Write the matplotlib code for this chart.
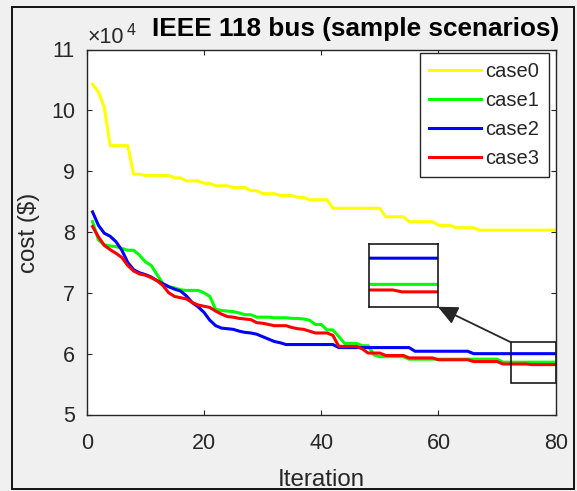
import matplotlib
matplotlib.use("Agg")
import matplotlib.pyplot as plt
from matplotlib.patches import Rectangle
from matplotlib.ticker import FuncFormatter
import numpy as np

plt.rcParams['font.family'] = ['Liberation Sans', 'DejaVu Sans']

# ---------------- data (cost in units of 1e4 $) ----------------
iterations = list(range(1, 81))
case0 = [10.43, 10.30, 10.05, 9.42, 9.42, 9.42, 9.42, 8.95, 8.95, 8.93,
         8.93, 8.93, 8.93, 8.93, 8.89, 8.89, 8.84, 8.84, 8.84, 8.80,
         8.80, 8.76, 8.76, 8.76, 8.73, 8.73, 8.73, 8.68, 8.68, 8.63,
         8.63, 8.63, 8.60, 8.60, 8.60, 8.57, 8.57, 8.53, 8.53, 8.53,
         8.53, 8.39, 8.39, 8.39, 8.39, 8.39, 8.39, 8.39, 8.39, 8.39,
         8.25, 8.25, 8.25, 8.25, 8.17, 8.17, 8.17, 8.17, 8.17, 8.11,
         8.11, 8.11, 8.07, 8.07, 8.07, 8.07, 8.03, 8.03, 8.03, 8.03,
         8.03, 8.03, 8.03, 8.03, 8.03, 8.03, 8.03, 8.03, 8.03, 8.03]
case1 = [8.17, 7.87, 7.79, 7.77, 7.76, 7.73, 7.70, 7.70, 7.62, 7.51,
         7.45, 7.30, 7.15, 7.10, 7.08, 7.05, 7.04, 7.04, 7.04, 7.00,
         6.94, 6.73, 6.71, 6.70, 6.69, 6.67, 6.64, 6.64, 6.60, 6.60,
         6.60, 6.59, 6.59, 6.59, 6.58, 6.58, 6.57, 6.55, 6.48, 6.48,
         6.39, 6.39, 6.28, 6.17, 6.17, 6.17, 6.13, 6.13, 5.98, 5.95,
         5.95, 5.95, 5.95, 5.95, 5.91, 5.91, 5.91, 5.91, 5.91, 5.91,
         5.91, 5.91, 5.91, 5.91, 5.91, 5.91, 5.91, 5.91, 5.91, 5.91,
         5.86, 5.86, 5.86, 5.86, 5.86, 5.86, 5.86, 5.86, 5.86, 5.86]
case2 = [8.33, 8.11, 7.98, 7.93, 7.84, 7.70, 7.50, 7.38, 7.33, 7.30,
         7.26, 7.20, 7.15, 7.10, 7.06, 7.03, 6.95, 6.84, 6.77, 6.68,
         6.55, 6.46, 6.42, 6.41, 6.40, 6.37, 6.35, 6.34, 6.32, 6.28,
         6.24, 6.20, 6.18, 6.15, 6.15, 6.15, 6.15, 6.15, 6.15, 6.15,
         6.15, 6.15, 6.10, 6.10, 6.10, 6.10, 6.10, 6.10, 6.10, 6.10,
         6.10, 6.10, 6.10, 6.10, 6.10, 6.04, 6.04, 6.04, 6.04, 6.04,
         6.04, 6.04, 6.04, 6.04, 6.04, 6.00, 6.00, 6.00, 6.00, 6.00,
         6.00, 6.00, 6.00, 6.00, 6.00, 6.00, 6.00, 6.00, 6.00, 6.00]
case3 = [8.09, 7.92, 7.78, 7.71, 7.65, 7.58, 7.45, 7.36, 7.31, 7.29,
         7.25, 7.20, 7.12, 7.00, 6.94, 6.92, 6.90, 6.84, 6.80, 6.78,
         6.76, 6.70, 6.65, 6.61, 6.60, 6.58, 6.57, 6.56, 6.51, 6.50,
         6.48, 6.46, 6.46, 6.46, 6.43, 6.41, 6.40, 6.37, 6.34, 6.34,
         6.34, 6.30, 6.12, 6.12, 6.12, 6.12, 6.08, 6.01, 6.01, 6.01,
         5.97, 5.97, 5.97, 5.97, 5.93, 5.93, 5.93, 5.93, 5.93, 5.90,
         5.90, 5.90, 5.90, 5.90, 5.90, 5.87, 5.87, 5.87, 5.87, 5.87,
         5.83, 5.83, 5.83, 5.83, 5.83, 5.82, 5.82, 5.82, 5.82, 5.82]
series_names = ['case0', 'case1', 'case2', 'case3']
series_colors = ['#ffff00', '#00ff00', '#0000ff', '#ff0000']
x_ticks = [0, 20, 40, 60, 80]
y_ticks = [5, 6, 7, 8, 9, 10, 11]
scale = 1e4

# zoom window (data coords) and inset placement (data coords)
zoom_x = (72.3, 80.0)
zoom_y = (5.52, 6.19)
inset_x = (48.1, 59.9)
inset_y = (6.77, 7.80)
inset_ylim = (5.74, 6.075)

W, H = 577, 491
fig = plt.figure(figsize=(W / 100, H / 100), dpi=100, facecolor='#f0f0f0')

def fx(px):
    return px / W

def fy(py):
    return 1 - py / H

ax_l, ax_r, ax_t, ax_b = 86.7, 555.7, 49.5, 414.5
ax = fig.add_axes([fx(ax_l), fy(ax_b), (ax_r - ax_l) / W, (ax_b - ax_t) / H])
ax.set_facecolor('white')

all_series = [case0, case1, case2, case3]
x = np.array(iterations)
for vals, name, col in zip(all_series, series_names, series_colors):
    ax.plot(x, np.array(vals) * scale, color=col, lw=2.2, label=name)

ax.set_xlim(0, 80)
ax.set_ylim(5 * scale, 11 * scale)
ax.set_xticks(x_ticks)
ax.set_yticks([v * scale for v in y_ticks])
ax.yaxis.set_major_formatter(FuncFormatter(lambda v, p: '%d' % round(v / scale)))
axcol = '#262626'
ax.tick_params(direction='in', length=3.3, width=0.8, top=True, right=True,
               colors=axcol, labelsize=15.5)
ax.tick_params(axis='x', pad=13)
ax.tick_params(axis='y', pad=8.5)
for sp in ax.spines.values():
    sp.set_color(axcol)
    sp.set_linewidth(1.0)

# zoom rectangle
ax.add_patch(Rectangle((zoom_x[0], zoom_y[0] * scale), zoom_x[1] - zoom_x[0],
                       (zoom_y[1] - zoom_y[0]) * scale, fill=False,
                       edgecolor='#1a1a1a', lw=1.2, zorder=5))
# arrow
ax.annotate('', xy=(inset_x[1], inset_y[0] * scale),
            xytext=(zoom_x[0], zoom_y[1] * scale),
            arrowprops=dict(arrowstyle='-|>,head_length=0.6,head_width=0.28',
                            color='#262626', lw=1.3,
                            mutation_scale=20, shrinkA=0, shrinkB=0),
            zorder=6)

# legend
leg = ax.legend(loc='upper left', bbox_to_anchor=(0.711, 0.99),
                borderaxespad=0, fontsize=14.5, handlelength=2.55,
                handletextpad=0.25, labelspacing=0.5, borderpad=0.45,
                fancybox=False, framealpha=1, edgecolor=axcol)
leg.get_frame().set_linewidth(1.0)
for t in leg.get_texts():
    t.set_color(axcol)

# inset axes
fig.canvas.draw()
p0 = ax.transData.transform((inset_x[0], inset_y[0] * scale))
p1 = ax.transData.transform((inset_x[1], inset_y[1] * scale))
inv = fig.transFigure.inverted()
f0 = inv.transform(p0)
f1 = inv.transform(p1)
axin = fig.add_axes([f0[0], f0[1], f1[0] - f0[0], f1[1] - f0[1]])
for vals, col in zip(all_series, series_colors):
    axin.plot(x, np.array(vals) * scale, color=col, lw=2.2)
axin.set_xlim(*zoom_x)
axin.set_ylim(inset_ylim[0] * scale, inset_ylim[1] * scale)
axin.set_xticks([])
axin.set_yticks([])
for sp in axin.spines.values():
    sp.set_color('#1a1a1a')
    sp.set_linewidth(1.2)

# texts
fig.text(fx(356), fy(36), 'IEEE 118 bus (sample scenarios)', ha='center',
         va='baseline', fontsize=18.8, fontweight='bold', color='black')
t10 = fig.text(fx(87.5), fy(43.3), '×10', ha='left', va='baseline',
               fontsize=15.5, color=axcol)
fig.canvas.draw()
bb = t10.get_window_extent()
fig.text((bb.x1 + 2.5) / W, fy(35), '4', ha='left', va='baseline',
         fontsize=11.5, color=axcol)
fig.text(fx(321), fy(486.5), 'Iteration', ha='center', va='baseline',
         fontsize=17.4, color=axcol)
fig.text(fx(29.5), fy(233), 'cost ($)', ha='center', va='center',
         rotation=90, fontsize=17.4, color=axcol)

# outer border
fig.patches.append(Rectangle((fx(12), fy(489)), (574 - 12) / W, (489 - 7) / H,
                             transform=fig.transFigure, fill=False,
                             edgecolor='#111111', lw=1.4))

fig.savefig('out.png', dpi=100, facecolor=fig.get_facecolor())
